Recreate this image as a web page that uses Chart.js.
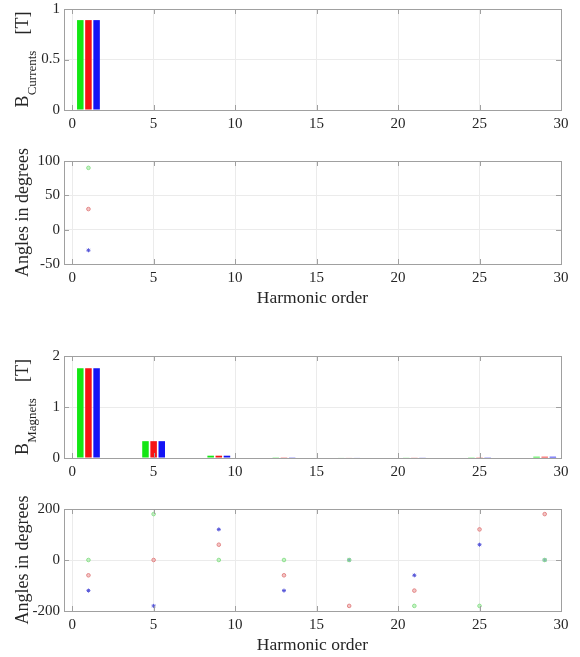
<!DOCTYPE html>
<html>
<head>
<meta charset="utf-8">
<script src="https://cdn.jsdelivr.net/npm/chart.js@4.4.0/dist/chart.umd.min.js"></script>
<style>
  body { margin: 0; background: #fff; }
  canvas { position: absolute; left: 0; }
</style>
</head>
<body>
<canvas id="currents" width="580" height="144" style="top:-4px"></canvas>
<canvas id="currentsAngle" width="580" height="178" style="top:131px"></canvas>
<canvas id="magnets" width="580" height="162" style="top:326px"></canvas>
<canvas id="magnetsAngle" width="580" height="177" style="top:479px"></canvas>
<script>
// harmonic orders
var harmCurrents = [1];
var harmMagnets = [1, 5, 9, 13, 17, 21, 25, 29];

// B from the currents [T], one array per phase
var bCurA = [0.89];
var bCurB = [0.89];
var bCurC = [0.89];
// angles of the current harmonics [deg]
var angCurA = [90];
var angCurB = [30];
var angCurC = [-30];

// B from the magnets [T]
var bMagA = [1.76, 0.33, 0.045, 0.014, 0.009, 0.012, 0.014, 0.025];
var bMagB = [1.76, 0.33, 0.045, 0.014, 0.009, 0.012, 0.014, 0.025];
var bMagC = [1.76, 0.33, 0.045, 0.014, 0.009, 0.012, 0.014, 0.025];
// angles of the magnet harmonics [deg]
var angMagA = [0, 180, 0, 0, 0, -180, -180, 0];
var angMagB = [-60, 0, 60, -60, -180, -120, 120, 180];
var angMagC = [-120, -180, 120, -120, 0, -60, 60, 0];

var xTicks = [0, 5, 10, 15, 20, 25, 30];

var serif = "'Liberation Serif', 'Times New Roman', serif";
var textCol = "#262626";
var boxCol = "#a0a0a0";
var gridCol = "#ebebeb";

function pts(xs, ys) {
    return xs.map(function (x, i) { return { x: x, y: ys[i] }; });
}

// box round the axes with inward ticks, like matlab
var boxPlugin = {
    id: "box",
    afterDraw: function (chart) {
        var ctx = chart.ctx, a = chart.chartArea;
        var xs = chart.scales.x, ys = chart.scales.y;
        ctx.save();
        ctx.strokeStyle = boxCol;
        ctx.lineWidth = 1;
        ctx.strokeRect(Math.round(a.left) + 0.5, Math.round(a.top) + 0.5,
            Math.round(a.right - a.left), Math.round(a.bottom - a.top));
        ctx.beginPath();
        xs.ticks.forEach(function (t, i) {
            var px = Math.round(xs.getPixelForTick(i)) + 0.5;
            ctx.moveTo(px, a.bottom); ctx.lineTo(px, a.bottom - 5);
            ctx.moveTo(px, a.top); ctx.lineTo(px, a.top + 5);
        });
        ys.ticks.forEach(function (t, i) {
            var py = Math.round(ys.getPixelForTick(i)) + 0.5;
            ctx.moveTo(a.left, py); ctx.lineTo(a.left + 5, py);
            ctx.moveTo(a.right, py); ctx.lineTo(a.right - 5, py);
        });
        ctx.stroke();
        ctx.restore();
    }
};

// rotated y title, with a subscript part if given
var yTitlePlugin = {
    id: "ytitle",
    afterDraw: function (chart, args, opts) {
        var ctx = chart.ctx, a = chart.chartArea;
        var big = "18px " + serif, small = "13px " + serif;
        ctx.save();
        ctx.fillStyle = textCol;
        ctx.textBaseline = "alphabetic";
        ctx.translate(28, (a.top + a.bottom) / 2);
        ctx.rotate(-Math.PI / 2);
        var parts = opts.parts;
        var total = 0;
        parts.forEach(function (p) {
            ctx.font = p.sub ? small : big;
            total += ctx.measureText(p.text).width + (p.gap || 0);
        });
        var x = -total / 2;
        parts.forEach(function (p) {
            ctx.font = p.sub ? small : big;
            ctx.fillText(p.text, x, p.sub ? 8 : 0);
            x += ctx.measureText(p.text).width + (p.gap || 0);
        });
        ctx.restore();
    }
};

function makeOptions(yMin, yMax, yStep, topPad, xHeight, withTitle, titleParts) {
    return {
        responsive: false,
        animation: false,
        layout: { padding: { left: 0, right: 19, top: topPad, bottom: 0 } },
        plugins: {
            legend: { display: false },
            tooltip: { enabled: false },
            ytitle: { parts: titleParts }
        },
        scales: {
            x: {
                type: "linear",
                min: -0.5,
                max: 30,
                offset: false,
                afterBuildTicks: function (s) {
                    s.ticks = xTicks.map(function (v) { return { value: v }; });
                },
                afterFit: function (s) { s.height = xHeight; },
                grid: { color: gridCol, drawTicks: false, offset: false },
                border: { display: false },
                ticks: { color: textCol, font: { family: serif, size: 15 }, padding: 5, maxRotation: 0 },
                title: {
                    display: withTitle,
                    text: "Harmonic order",
                    color: textCol,
                    font: { family: serif, size: 17.5 },
                    padding: 0
                }
            },
            y: {
                min: yMin,
                max: yMax,
                afterFit: function (s) { s.width = 64; },
                grid: { color: gridCol, drawTicks: false },
                border: { display: false },
                ticks: {
                    stepSize: yStep,
                    color: textCol,
                    font: { family: serif, size: 15 },
                    padding: 4,
                    callback: function (v) { return String(+v); }
                }
            }
        }
    };
}

function barSets(xs, a, b, c, catPct) {
    var cols = ["#14e614", "#f51414", "#1414f5"];
    return [a, b, c].map(function (d, i) {
        return {
            type: "bar",
            data: pts(xs, d),
            backgroundColor: cols[i],
            borderWidth: 0,
            categoryPercentage: catPct,
            barPercentage: 0.8
        };
    });
}

function pointSets(xs, a, b, c) {
    return [
        { type: "scatter", data: pts(xs, a), pointStyle: "circle", pointRadius: 1.8, borderWidth: 1,
          borderColor: "#8ee08e", backgroundColor: "rgba(160,235,160,0.6)" },
        { type: "scatter", data: pts(xs, b), pointStyle: "circle", pointRadius: 1.8, borderWidth: 1,
          borderColor: "#e38686", backgroundColor: "rgba(235,160,160,0.6)" },
        { type: "scatter", data: pts(xs, c), pointStyle: "star", pointRadius: 2, borderWidth: 1,
          borderColor: "#5656d8", backgroundColor: "#5656d8" }
    ];
}

var bCurrentsTitle = [{ text: "B" }, { text: "Currents", sub: true, gap: 16 }, { text: "[T]" }];
var bMagnetsTitle = [{ text: "B" }, { text: "Magnets", sub: true, gap: 16 }, { text: "[T]" }];
var angleTitle = [{ text: "Angles in degrees" }];

new Chart(document.getElementById("currents"), {
    type: "bar",
    data: { datasets: barSets(harmCurrents, bCurA, bCurB, bCurC, 0.3) },
    options: makeOptions(0, 1, 0.5, 12, 30, false, bCurrentsTitle),
    plugins: [boxPlugin, yTitlePlugin]
});

new Chart(document.getElementById("currentsAngle"), {
    type: "scatter",
    data: { datasets: pointSets(harmCurrents, angCurA, angCurB, angCurC) },
    options: makeOptions(-50, 100, 50, 30, 45, true, angleTitle),
    plugins: [boxPlugin, yTitlePlugin]
});

new Chart(document.getElementById("magnets"), {
    type: "bar",
    data: { datasets: barSets(harmMagnets, bMagA, bMagB, bMagC, 0.375) },
    options: makeOptions(0, 2, 1, 30, 30, false, bMagnetsTitle),
    plugins: [boxPlugin, yTitlePlugin]
});

new Chart(document.getElementById("magnetsAngle"), {
    type: "scatter",
    data: { datasets: pointSets(harmMagnets, angMagA, angMagB, angMagC) },
    options: makeOptions(-200, 200, 200, 30, 45, true, angleTitle),
    plugins: [boxPlugin, yTitlePlugin]
});
</script>
</body>
</html>
